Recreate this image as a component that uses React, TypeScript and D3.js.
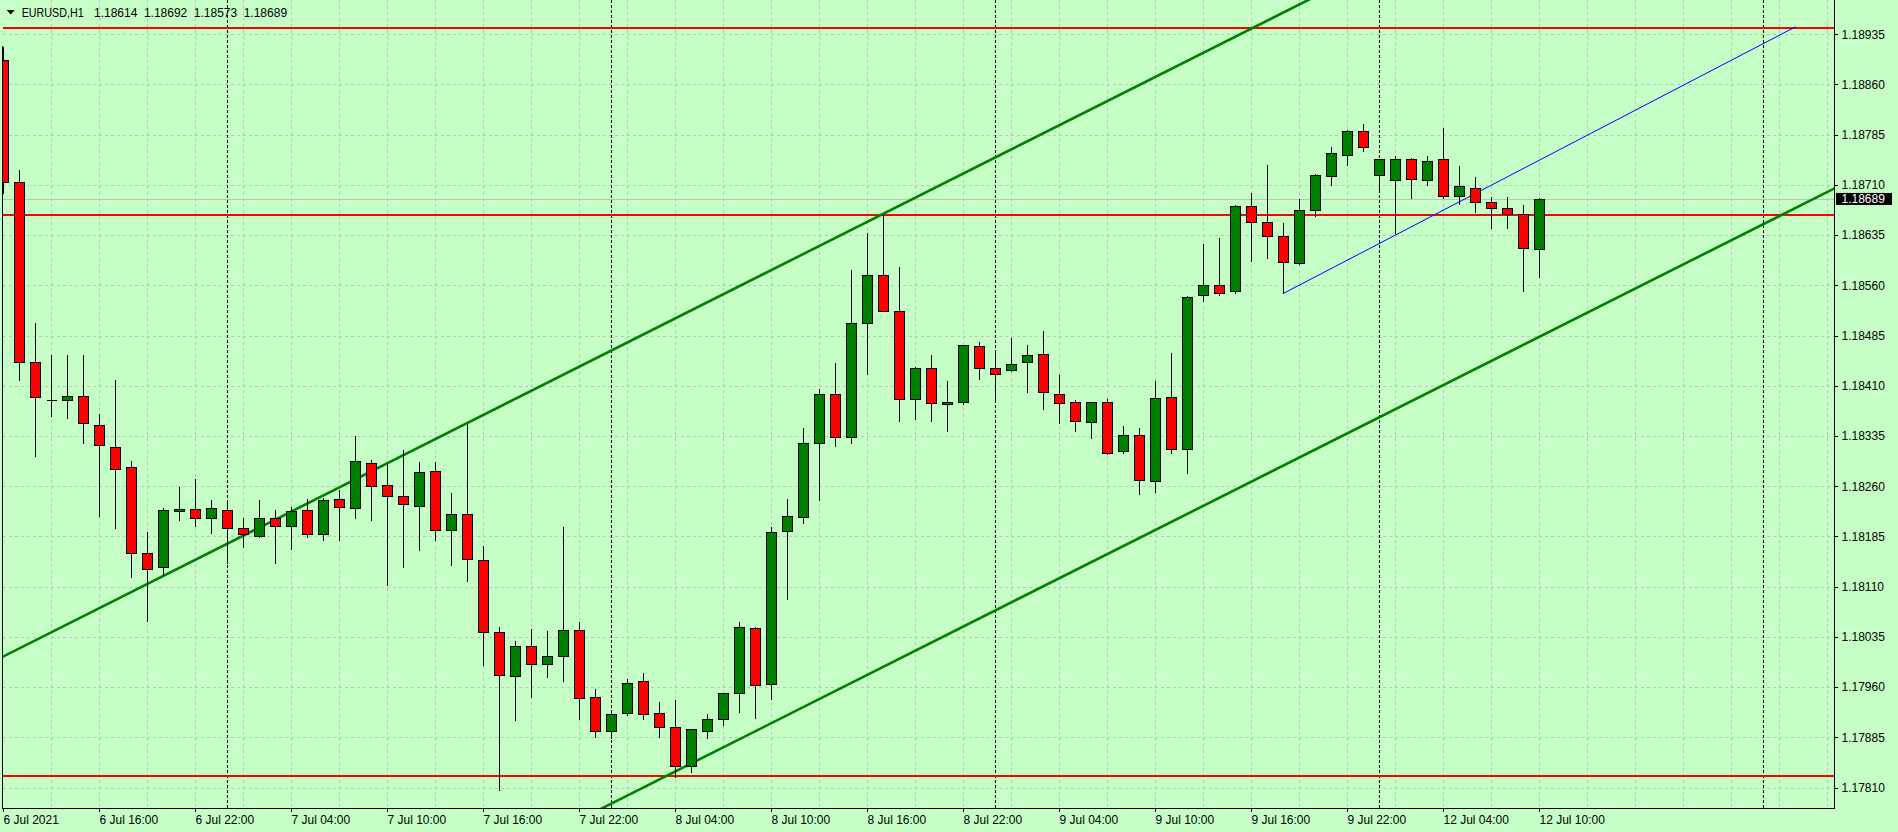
import React from "react";
import * as d3 from "d3";

// ---------- data (EURUSD H1, from 6 Jul 2021 10:00) ----------
const OPEN = [
  1.18896, 1.18715, 1.18446, 1.18389, 1.18389, 1.18395, 1.18352, 1.18319, 1.18288, 1.18161,
  1.18140, 1.18223, 1.18226, 1.18213, 1.18225, 1.18198, 1.18186, 1.18213, 1.18201, 1.18225,
  1.18189, 1.18241, 1.18228, 1.18295, 1.18262, 1.18246, 1.18231, 1.18283, 1.18195, 1.18219,
  1.18150, 1.18043, 1.17977, 1.18022, 1.17995, 1.18007, 1.18046, 1.17946, 1.17894, 1.17921,
  1.17969, 1.17921, 1.17900, 1.17842, 1.17895, 1.17913, 1.17952, 1.18048, 1.17964, 1.18193,
  1.18214, 1.18324, 1.18398, 1.18333, 1.18504, 1.18576, 1.18521, 1.18391, 1.18437, 1.18383,
  1.18386, 1.18470, 1.18436, 1.18434, 1.18446, 1.18458, 1.18398, 1.18386, 1.18356, 1.18386,
  1.18313, 1.18337, 1.18268, 1.18394, 1.18316, 1.18545, 1.18561, 1.18551, 1.18679, 1.18654,
  1.18634, 1.18594, 1.18673, 1.18724, 1.18755, 1.18790, 1.18725, 1.18718, 1.18749, 1.18718,
  1.18749, 1.18693, 1.18706, 1.18684, 1.18676, 1.18667, 1.18614,
];
const HIGH = [
  1.18918, 1.18733, 1.18505, 1.18458, 1.18458, 1.18458, 1.18369, 1.18420, 1.18299, 1.18193,
  1.18229, 1.18261, 1.18272, 1.18241, 1.18238, 1.18214, 1.18241, 1.18226, 1.18231, 1.18243,
  1.18244, 1.18256, 1.18337, 1.18301, 1.18294, 1.18315, 1.18298, 1.18297, 1.18252, 1.18355,
  1.18173, 1.18052, 1.18031, 1.18049, 1.18046, 1.18200, 1.18059, 1.17958, 1.17925, 1.17974,
  1.17982, 1.17939, 1.17943, 1.17898, 1.17921, 1.17952, 1.18059, 1.18051, 1.18200, 1.18243,
  1.18348, 1.18407, 1.18446, 1.18585, 1.18639, 1.18667, 1.18589, 1.18439, 1.18457, 1.18418,
  1.18473, 1.18477, 1.18465, 1.18483, 1.18473, 1.18494, 1.18428, 1.18391, 1.18386, 1.18392,
  1.18352, 1.18349, 1.18419, 1.18460, 1.18546, 1.18623, 1.18632, 1.18681, 1.18699, 1.18741,
  1.18654, 1.18690, 1.18727, 1.18768, 1.18793, 1.18803, 1.18748, 1.18755, 1.18752, 1.18755,
  1.18796, 1.18740, 1.18724, 1.18693, 1.18694, 1.18681, 1.18692,
];
const LOW = [
  1.18698, 1.18418, 1.18305, 1.18365, 1.18362, 1.18324, 1.18216, 1.18197, 1.18124, 1.18059,
  1.18127, 1.18209, 1.18200, 1.18190, 1.18145, 1.18169, 1.18184, 1.18145, 1.18166, 1.18184,
  1.18180, 1.18180, 1.18213, 1.18210, 1.18112, 1.18139, 1.18165, 1.18180, 1.18142, 1.18118,
  1.17993, 1.17807, 1.17911, 1.17946, 1.17975, 1.17969, 1.17913, 1.17886, 1.17884, 1.17918,
  1.17913, 1.17885, 1.17826, 1.17834, 1.17884, 1.17904, 1.17923, 1.17914, 1.17943, 1.18091,
  1.18205, 1.18239, 1.18320, 1.18324, 1.18428, 1.18522, 1.18358, 1.18360, 1.18357, 1.18342,
  1.18383, 1.18420, 1.18387, 1.18432, 1.18401, 1.18375, 1.18355, 1.18343, 1.18332, 1.18308,
  1.18310, 1.18248, 1.18251, 1.18310, 1.18280, 1.18537, 1.18546, 1.18548, 1.18596, 1.18601,
  1.18548, 1.18592, 1.18664, 1.18710, 1.18739, 1.18760, 1.18699, 1.18638, 1.18690, 1.18710,
  1.18690, 1.18681, 1.18670, 1.18646, 1.18646, 1.18552, 1.18573,
];
const CLOSE = [
  1.18715, 1.18445, 1.18394, 1.18389, 1.18395, 1.18355, 1.18321, 1.18285, 1.18161, 1.18137,
  1.18225, 1.18226, 1.18213, 1.18228, 1.18198, 1.18189, 1.18213, 1.18201, 1.18223, 1.18189,
  1.18240, 1.18229, 1.18297, 1.18261, 1.18246, 1.18234, 1.18282, 1.18195, 1.18219, 1.18152,
  1.18043, 1.17978, 1.18022, 1.17995, 1.18007, 1.18046, 1.17944, 1.17895, 1.17920, 1.17966,
  1.17920, 1.17900, 1.17842, 1.17897, 1.17912, 1.17951, 1.18050, 1.17963, 1.18192, 1.18216,
  1.18325, 1.18398, 1.18333, 1.18504, 1.18575, 1.18522, 1.18391, 1.18437, 1.18385, 1.18386,
  1.18471, 1.18436, 1.18428, 1.18443, 1.18456, 1.18400, 1.18385, 1.18358, 1.18386, 1.18310,
  1.18337, 1.18270, 1.18392, 1.18316, 1.18543, 1.18561, 1.18549, 1.18678, 1.18655, 1.18634,
  1.18595, 1.18673, 1.18725, 1.18757, 1.18790, 1.18766, 1.18748, 1.18748, 1.18719, 1.18746,
  1.18693, 1.18708, 1.18685, 1.18676, 1.18667, 1.18616, 1.18689,
];

const PRICE_TICKS = [
  1.1781, 1.17885, 1.1796, 1.18035, 1.1811, 1.18185, 1.1826, 1.18335,
  1.1841, 1.18485, 1.1856, 1.18635, 1.1871, 1.18785, 1.1886, 1.18935,
];
const TIME_LABELS = [
  "6 Jul 2021", "6 Jul 16:00", "6 Jul 22:00", "7 Jul 04:00", "7 Jul 10:00", "7 Jul 16:00",
  "7 Jul 22:00", "8 Jul 04:00", "8 Jul 10:00", "8 Jul 16:00", "8 Jul 22:00", "9 Jul 04:00",
  "9 Jul 10:00", "9 Jul 16:00", "9 Jul 22:00", "12 Jul 04:00", "12 Jul 10:00",
];
const TIME_LABEL_STEP = 6; // bars between time labels
const GRID_BAR_STEP = 3;
const SEPARATOR_BARS = [14, 38, 62, 86, 110];
const RED_LEVELS = [1.18944, 1.18665, 1.17827];
const BID = 1.18689;
const CHANNEL_UPPER = [
  { bar: 0, price: 1.18006 },
  { bar: 55, price: 1.18667 },
];
const CHANNEL_WIDTH = 0.006765;
const BLUE_LINE = [
  { bar: 80, price: 1.18548 },
  { bar: 112, price: 1.18946 },
];
const HEADER_SYMBOL = "EURUSD,H1";
const HEADER_VALUES = ["1.18614", "1.18692", "1.18573", "1.18689"];

// ---------- layout ----------
const W = 1898;
const H = 832;
const PL = 3;
const PR = 1834;
const PB = 808;
const BG = "#C6FFC6";
const UP = "#008000";
const DOWN = "#FF0000";
const GRID = "#C0C0C0";
const FONT = "'Liberation Sans', Arial, sans-serif";

export default function App() {
  const x = d3.scaleLinear().domain([0, 1]).range([3.5, 19.5]);
  const y = d3.scaleLinear().domain([1.1781, 1.18935]).range([787.6, 34.2]);
  const py = (p: number) => Math.round(y(p)) + 0.5;

  const nBars = Math.floor(x.invert(PR)) + 1;
  const gridBars = d3.range(GRID_BAR_STEP, nBars, GRID_BAR_STEP);

  const slope = (CHANNEL_UPPER[1].price - CHANNEL_UPPER[0].price) / (CHANNEL_UPPER[1].bar - CHANNEL_UPPER[0].bar);
  const b0 = x.invert(0);
  const b1 = x.invert(PR + 10);
  const upAt = (b: number) => CHANNEL_UPPER[0].price + (b - CHANNEL_UPPER[0].bar) * slope;
  const lineGen = d3.line<{ bar: number; price: number }>().x((d) => x(d.bar)).y((d) => y(d.price));

  const upperPts = [{ bar: b0, price: upAt(b0) }, { bar: b1, price: upAt(b1) }];
  const lowerPts = upperPts.map((d) => ({ bar: d.bar, price: d.price - CHANNEL_WIDTH }));

  const bidY = y(BID);

  return (
    <svg
      width={W}
      height={H}
      style={{ position: "fixed", left: 0, top: 0, display: "block" }}
      fontFamily={FONT}
    >
      <defs>
        <clipPath id="plot">
          <rect x={PL} y={0} width={PR - PL} height={PB} />
        </clipPath>
      </defs>
      <rect x={0} y={0} width={W} height={H} fill={BG} />

      <g clipPath="url(#plot)">
        {/* grid */}
        <g shapeRendering="crispEdges" stroke={GRID} strokeDasharray="3,3" strokeWidth={1}>
          {PRICE_TICKS.map((p) => (
            <line key={"h" + p} x1={PL} x2={PR} y1={py(p)} y2={py(p)} />
          ))}
          {gridBars.map((b) => (
            <line key={"v" + b} x1={x(b)} x2={x(b)} y1={0} y2={PB} />
          ))}
        </g>
        {/* period separators */}
        <g shapeRendering="crispEdges" stroke="#000" strokeDasharray="3,2" strokeWidth={1}>
          {SEPARATOR_BARS.map((b) => (
            <line key={"s" + b} x1={x(b)} x2={x(b)} y1={0} y2={PB} />
          ))}
        </g>
        {/* bid line */}
        <line x1={PL} x2={PR} y1={Math.round(bidY) + 0.5} y2={Math.round(bidY) + 0.5} stroke={GRID} strokeWidth={1} shapeRendering="crispEdges" />
        {/* red horizontal levels */}
        {RED_LEVELS.map((p) => (
          <line key={"r" + p} x1={PL} x2={PR} y1={Math.round(y(p))} y2={Math.round(y(p))} stroke={DOWN} strokeWidth={2} shapeRendering="crispEdges" />
        ))}
        {/* channel */}
        <path d={lineGen(upperPts) || ""} stroke={UP} strokeWidth={2.6} fill="none" />
        <path d={lineGen(lowerPts) || ""} stroke={UP} strokeWidth={2.6} fill="none" />
        {/* blue trend line */}
        <path d={lineGen(BLUE_LINE) || ""} stroke="#0000FF" strokeWidth={1} fill="none" />

        {/* candles */}
        <g shapeRendering="crispEdges">
          {OPEN.map((o, i) => {
            const c = CLOSE[i];
            const xc = x(i);
            const top = py(Math.max(o, c));
            const bot = py(Math.min(o, c));
            const up = c >= o;
            return (
              <g key={"c" + i}>
                <line x1={xc} x2={xc} y1={py(HIGH[i])} y2={py(LOW[i])} stroke="#000" strokeWidth={1} />
                {bot - top < 1 ? (
                  <line x1={xc - 5} x2={xc + 5} y1={top} y2={top} stroke="#000" strokeWidth={1} />
                ) : (
                  <rect
                    x={xc - 5}
                    y={top}
                    width={10}
                    height={bot - top}
                    fill={up ? UP : DOWN}
                    stroke="#000"
                    strokeWidth={1}
                  />
                )}
              </g>
            );
          })}
        </g>
      </g>

      {/* borders */}
      <g shapeRendering="crispEdges" stroke="#000" strokeWidth={1}>
        <line x1={2.5} x2={2.5} y1={46} y2={PB + 0.5} />
        <line x1={PR + 0.5} x2={PR + 0.5} y1={0} y2={PB + 0.5} />
        <line x1={2.5} x2={PR + 0.5} y1={PB + 0.5} y2={PB + 0.5} />
      </g>

      {/* price axis */}
      <g fontSize={12} fill="#000">
        {PRICE_TICKS.map((p) => {
          const ty = y(p);
          return (
            <g key={"pt" + p}>
              <line x1={PR} x2={PR + 4} y1={Math.round(ty) + 0.5} y2={Math.round(ty) + 0.5} stroke="#000" shapeRendering="crispEdges" />
              <text x={1841.5} y={ty + 4.3}>{p.toFixed(5)}</text>
            </g>
          );
        })}
        <rect x={1836} y={bidY - 6} width={56} height={12} fill="#000" />
        <text x={1841.5} y={bidY + 4.3} fill="#fff">{BID.toFixed(5)}</text>
      </g>

      {/* time axis */}
      <g fontSize={12} fill="#000">
        {TIME_LABELS.map((t, k) => {
          const bx = x(k * TIME_LABEL_STEP);
          return (
            <g key={"tl" + k}>
              <line x1={bx} x2={bx} y1={PB} y2={PB + 4} stroke="#000" shapeRendering="crispEdges" />
              <text x={bx} y={824}>{t}</text>
            </g>
          );
        })}
      </g>

      {/* header */}
      <path d="M6.7,10 L14.7,10 L10.7,14.5 Z" fill="#000" />
      <g fontSize={12} fill="#000">
        <text x={21.7} y={16.5} textLength={62} lengthAdjust="spacingAndGlyphs">{HEADER_SYMBOL}</text>
        {HEADER_VALUES.map((v, k) => (
          <text key={"hv" + k} x={94 + k * 49.9} y={16.5}>{v}</text>
        ))}
      </g>
    </svg>
  );
}
